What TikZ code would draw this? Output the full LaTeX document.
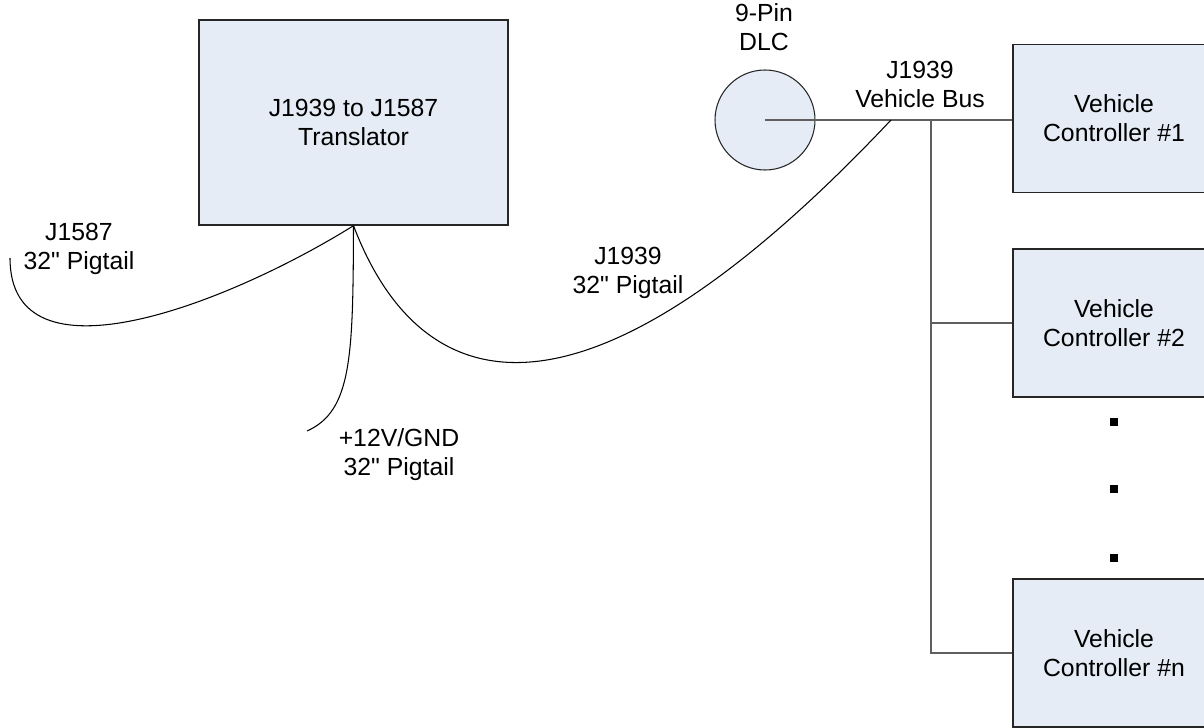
\documentclass[tikz,border=0pt]{standalone}
\usepackage{fontspec}
\setmainfont{Liberation Sans}[Ligatures=TeXOff]
\usepackage{xcolor}
\usepackage{tikz}
\usetikzlibrary{positioning,calc}
\definecolor{boxbg}{HTML}{E5ECF6}
\definecolor{busgray}{HTML}{5F5F5F}

\tikzset{
  unitbox/.style={draw=black!85, line width=0.8pt, fill=boxbg, align=center, inner sep=0pt},
  ctrlbox/.style={unitbox, minimum width=4.04cm, minimum height=2.96cm},
  wire/.style={line width=0.6pt},
  busline/.style={draw=busgray, line width=0.8pt},
  lbl/.style={align=center, inner sep=0pt},
  busdot/.style={fill=black, minimum size=0.17cm, inner sep=0pt},
}

\begin{document}
\begin{tikzpicture}[font=\fontsize{14.1}{16.5}\selectfont]
  \useasboundingbox (0,0) rectangle (24.08,14.54);

  % Translator and the 9-pin diagnostic connector
  \node[unitbox, minimum width=6.18cm, minimum height=4.1cm] (trans) at (7.07,12.09) {J1939 to J1587\\Translator};
  \node[circle, draw=black!85, line width=0.6pt, fill=boxbg, minimum size=2cm, inner sep=0pt] (dlc) at (15.3,12.14) {};
  \node[lbl] (dlclbl) at (15.28,14.0) {9-Pin\\DLC};

  % Vehicle controllers (right edge runs off the page)
  \node[ctrlbox] (vc1) at (22.28,12.17) {Vehicle\\Controller \#1};
  \node[ctrlbox] (vc2) at (22.28,8.08) {Vehicle\\Controller \#2};
  \node[ctrlbox] (vcn) at (22.28,1.48) {Vehicle\\Controller \#n};
  \node[busdot] (dot1) at (22.28,6.1) {};
  \node[busdot] (dot2) at (22.28,4.76) {};
  \node[busdot] (dot3) at (22.28,3.38) {};

  % J1939 vehicle bus
  \coordinate (tap) at (18.62,12.14);
  \draw[busline] (dlc.center) -- (tap) -- (vc1.west |- dlc.center);
  \draw[busline] (tap) |- (vcn.west);
  \draw[busline] (tap |- vc2.west) -- (vc2.west);
  \node[lbl] (buslbl) at (18.4,12.85) {J1939\\Vehicle Bus};

  % Pigtails out of the translator
  \coordinate (end1587) at (0.2,9.38);
  \coordinate (endpwr) at (6.14,5.92);
  \coordinate (tip1939) at (17.82,12.14);
  \draw[wire] (trans.south) .. controls (4.52,8.44) and (0.2,6.78) .. (end1587);
  \draw[wire] (trans.south) .. controls (7.06,7.42) and (7.04,6.32) .. (endpwr);
  \draw[wire] (trans.south) .. controls (8.4,6.54) and (11.6,5.54) .. (tip1939);
  \node[lbl] (lbl1587) at (1.58,9.56) {J1587\\32" Pigtail};
  \node[lbl] (lblpwr) at (7.98,5.45) {+12V/GND\\32" Pigtail};
  \node[lbl] (lbl1939) at (12.56,9.09) {J1939\\32" Pigtail};
\end{tikzpicture}
\end{document}
